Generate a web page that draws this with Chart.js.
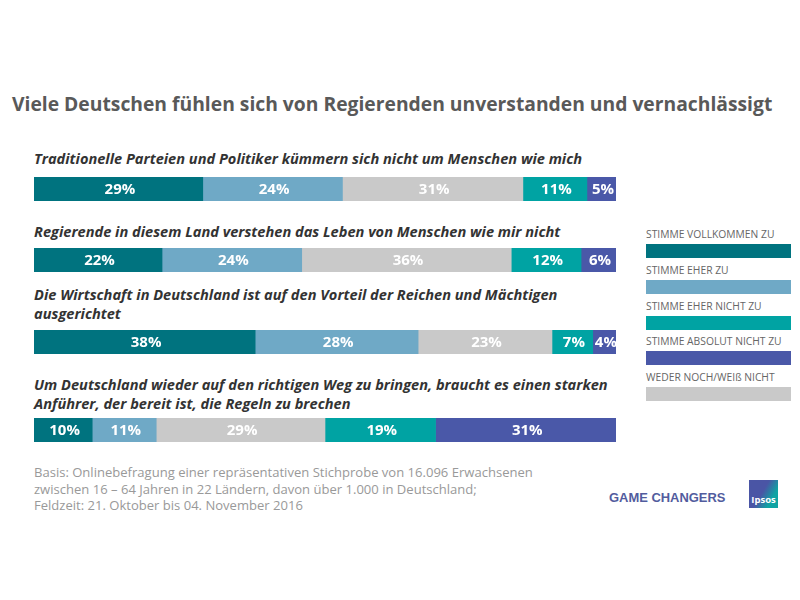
<!DOCTYPE html>
<html lang="de">
<head>
<meta charset="utf-8">
<title>Game Changers</title>
<script src="https://cdn.jsdelivr.net/npm/chart.js@4"></script>
<style>
    html, body { margin: 0; padding: 0; background: #fff; }
    #page { position: relative; width: 800px; height: 600px; overflow: hidden; font-family: "Open Sans", sans-serif; }
    #page div, #page canvas { position: absolute; }
    #title { left: 12px; top: 90px; font-size: 19.3px; font-weight: 700; color: #595959; white-space: nowrap; }
    .question { left: 34px; font-size: 14.6px; line-height: 19px; font-weight: 700; font-style: italic; color: #333; white-space: nowrap; }
    .legendLabel { left: 646px; font-size: 10.3px; color: #666; white-space: nowrap; }
    .legendBar { left: 646px; width: 145px; height: 14px; }
    #note { left: 34px; top: 464px; font-size: 13.05px; line-height: 16.5px; color: #999; white-space: nowrap; }
    #changers { left: 609px; top: 490px; font-family: "Liberation Sans", sans-serif; font-size: 12.95px; font-weight: 700; color: #525c9e; white-space: nowrap; }
    #logo { left: 749px; top: 480px; width: 29px; height: 28px; background: linear-gradient(120deg, #4a55a5 45%, #0fa3a3 75%); }
    #logoText { left: 0; width: 29px; top: 13px; text-align: center; font-size: 9.5px; font-weight: 700; color: #fff; }
</style>
</head>
<body>
<div id="page">
    <div id="title">Viele Deutschen fühlen sich von Regierenden unverstanden und vernachlässigt</div>
    <div id="questions"></div>
    <canvas id="bar0" style="left:34px;top:177px"></canvas>
    <canvas id="bar1" style="left:34px;top:248px"></canvas>
    <canvas id="bar2" style="left:34px;top:330px"></canvas>
    <canvas id="bar3" style="left:34px;top:418px"></canvas>
    <div id="legend"></div>
    <div id="note">Basis: Onlinebefragung einer repräsentativen Stichprobe von 16.096 Erwachsenen<br>zwischen 16 – 64 Jahren in 22 Ländern, davon über 1.000 in Deutschland;<br>Feldzeit: 21. Oktober bis 04. November 2016</div>
    <div id="changers">GAME CHANGERS</div>
    <div id="logo"><div id="logoText">Ipsos</div></div>
</div>
<script>
// Values per statement, top to bottom
const stimmeVollkommenZu = [29, 22, 38, 10];
const stimmeEherZu = [24, 24, 28, 11];
const wederNoch = [31, 36, 23, 29];
const stimmeEherNichtZu = [11, 12, 7, 19];
const stimmeAbsolutNichtZu = [5, 6, 4, 31];

const statements = [
    "Traditionelle Parteien und Politiker kümmern sich nicht um Menschen wie mich",
    "Regierende in diesem Land verstehen das Leben von Menschen wie mir nicht",
    "Die Wirtschaft in Deutschland ist auf den Vorteil der Reichen und Mächtigen<br>ausgerichtet",
    "Um Deutschland wieder auf den richtigen Weg zu bringen, braucht es einen starken<br>Anführer, der bereit ist, die Regeln zu brechen"
];
const statementTops = [149, 222, 285, 375];

const seriesNames = ["STIMME VOLLKOMMEN ZU", "STIMME EHER ZU", "WEDER NOCH/WEIß NICHT", "STIMME EHER NICHT ZU", "STIMME ABSOLUT NICHT ZU"];
const seriesValues = [stimmeVollkommenZu, stimmeEherZu, wederNoch, stimmeEherNichtZu, stimmeAbsolutNichtZu];
const seriesColors = ["#00737f", "#6fa9c6", "#c9c9c9", "#00a3a3", "#4a58a8"];

// Legend order differs from the stacking order
const legendOrder = [0, 1, 3, 4, 2];
const legendTops = [227, 263, 299, 334, 370];

// Percent labels inside the segments
const percentLabels = {
    id: "percentLabels",
    afterDatasetsDraw(chart) {
        const ctx = chart.ctx;
        ctx.save();
        ctx.fillStyle = "#fff";
        ctx.font = "700 15px 'Open Sans', sans-serif";
        ctx.textAlign = "center";
        ctx.textBaseline = "middle";
        chart.data.datasets.forEach(function(ds, i) {
            const bar = chart.getDatasetMeta(i).data[0];
            ctx.fillText(ds.data[0] + "%", bar.x - (bar.x - bar.base) / 2 + 1.5, bar.y + 1);
        });
        ctx.restore();
    }
};

function createBar(index) {
    const canvas = document.getElementById("bar" + index);
    canvas.width = 582;
    canvas.height = 24;
    canvas.style.width = "582px";
    canvas.style.height = "24px";
    new Chart(canvas.getContext("2d"), {
        type: "bar",
        data: {
            labels: [""],
            datasets: seriesValues.map(function(values, i) {
                return {
                    label: seriesNames[i],
                    data: [values[index]],
                    backgroundColor: seriesColors[i],
                    barPercentage: 1,
                    categoryPercentage: 1
                };
            })
        },
        options: {
            indexAxis: "y",
            responsive: false,
            animation: false,
            layout: { padding: 0 },
            plugins: { legend: { display: false }, tooltip: { enabled: false } },
            scales: {
                x: { stacked: true, min: 0, max: 100, display: false },
                y: { stacked: true, display: false }
            }
        },
        plugins: [percentLabels]
    });
}

const page = document.getElementById("page");

statements.forEach(function(text, i) {
    const el = document.createElement("div");
    el.className = "question";
    el.style.top = statementTops[i] + "px";
    el.innerHTML = text;
    page.appendChild(el);
    createBar(i);
});

legendOrder.forEach(function(s, i) {
    const label = document.createElement("div");
    label.className = "legendLabel";
    label.style.top = legendTops[i] + "px";
    label.textContent = seriesNames[s];
    page.appendChild(label);
    const swatch = document.createElement("div");
    swatch.className = "legendBar";
    swatch.style.top = (legendTops[i] + 17) + "px";
    swatch.style.background = seriesColors[s];
    page.appendChild(swatch);
});
</script>
</body>
</html>
